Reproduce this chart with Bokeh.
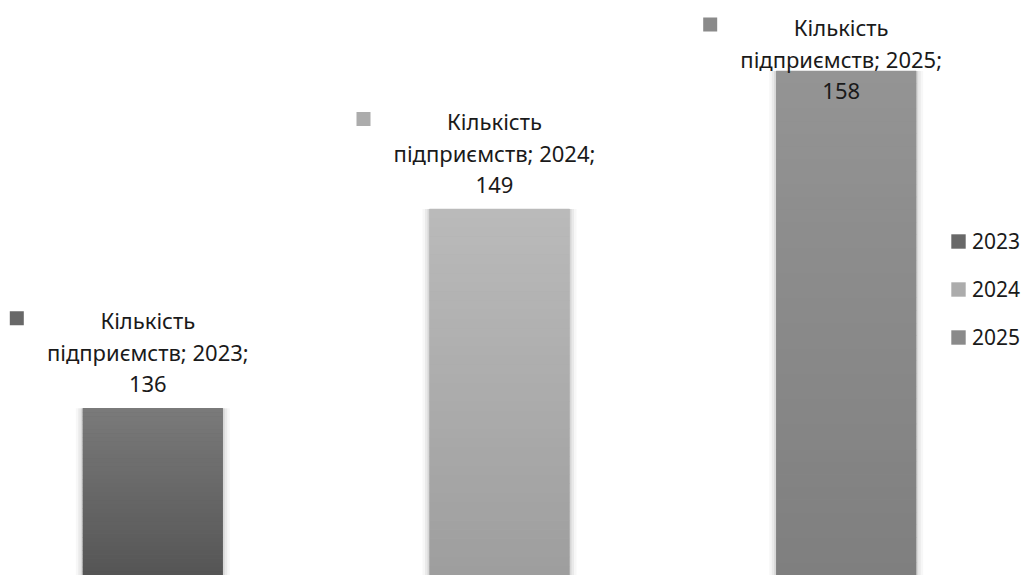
from bokeh.plotting import figure
from bokeh.models import Range1d, Legend, LegendItem
from bokeh.core.properties import value
from bokeh.embed import file_html
from bokeh.resources import INLINE

# ---- data ----
years = ["2023", "2024", "2025"]
counts = [136, 149, 158]
series_name = "Кількість"
series_name2 = "підприємств"

# ---- styles ----
top_colors = [(0x7a, 0x7a, 0x7a), (0xba, 0xba, 0xba), (0x94, 0x94, 0x94)]
bot_colors = [(0x55, 0x55, 0x55), (0x9e, 0x9e, 0x9e), (0x7f, 0x7f, 0x7f)]
FONT = "Noto Sans"
FS = 22
LFS = 21

W, H = 1032, 575
y0, y1 = 125.1, 162.6
ppu = H / (y1 - y0)
x_lo = -152.3 / 346.7
x_hi = (W - 152.3) / 346.7
bar_w = 140 / 346.7

p = figure(width=W, height=H, output_backend="svg", toolbar_location=None,
           x_range=Range1d(x_lo, x_hi), y_range=Range1d(y0, y1),
           min_border=0, outline_line_color=None)
p.xaxis.visible = False
p.yaxis.visible = False
p.xgrid.visible = False
p.ygrid.visible = False
p.background_fill_color = "white"
p.border_fill_color = "white"

xs = list(range(len(years)))

def hexc(c):
    return "#%02x%02x%02x" % tuple(int(round(v)) for v in c)

# soft shadow
for k, a in [(14, 0.03), (9, 0.05), (4, 0.08)]:
    p.vbar(x=xs, top=counts, bottom=y0, width=bar_w + k / 346.7,
           fill_color="black", fill_alpha=a, line_color=None)

base_renderers = []
N = 40
for i, (x, v) in enumerate(zip(xs, counts)):
    mid = tuple((a + b) / 2 for a, b in zip(top_colors[i], bot_colors[i]))
    r = p.vbar(x=[x], top=[v], bottom=y0, width=bar_w,
               fill_color=hexc(mid), line_color=None)
    base_renderers.append(r)
    step = (v - y0) / N
    bots, tops, cols = [], [], []
    for j in range(N):
        t = (j + 0.5) / N  # 0 bottom -> 1 top
        c = tuple(bb + (tt - bb) * t for tt, bb in zip(top_colors[i], bot_colors[i]))
        bots.append(y0 + j * step)
        tops.append(y0 + (j + 1) * step + 0.02)
        cols.append(hexc(c))
    p.vbar(x=[x] * N, top=tops, bottom=bots, width=bar_w,
           fill_color=cols, line_color=None)

# ---- data labels ----
def to_data(px):
    return y1 - px / ppu

l1, l2, l3, key_y = [], [], [], []
for v in counts:
    top_px = (y1 - v) * ppu
    c3 = top_px - 24
    c1 = c3 - 64
    if c1 < 26:
        shift = 26 - c1
        c1 += shift
        c3 += shift
    c2 = c3 - 32
    l1.append(to_data(c1))
    l2.append(to_data(c2))
    l3.append(to_data(c3))
    key_y.append(to_data(c1 - 2))

txt_kw = dict(text_font=value(FONT), text_font_size=f"{FS}px", text_align="center",
              text_baseline="middle", text_color="#1a1a1a", x_offset=-5)
p.text(x=xs, y=l1, text=[series_name] * 3, **txt_kw)
p.text(x=xs, y=l2, text=[f"{series_name2}; {y};" for y in years], **txt_kw)
p.text(x=xs, y=l3, text=[str(v) for v in counts], **txt_kw)

key_cols = [hexc(tuple((a + b) / 2 for a, b in zip(top_colors[i], bot_colors[i]))) for i in range(3)]
xs_key = [x - 136 / 346.7 for x in xs]
p.scatter(x=xs_key, y=key_y, marker="square", size=14, fill_color=key_cols, line_color=None)

# ---- legend ----
legend = Legend(items=[LegendItem(label=y, renderers=[r]) for y, r in zip(years, base_renderers)],
                location=(949, 224), orientation="vertical",
                label_text_font=FONT, label_text_font_size=f"{LFS}px", label_text_color="#1a1a1a",
                glyph_width=18, glyph_height=18, label_standoff=5, spacing=20,
                padding=0, margin=0, border_line_color=None, background_fill_alpha=0)
p.add_layout(legend)

open("out.html", "w").write(file_html(p, INLINE))
